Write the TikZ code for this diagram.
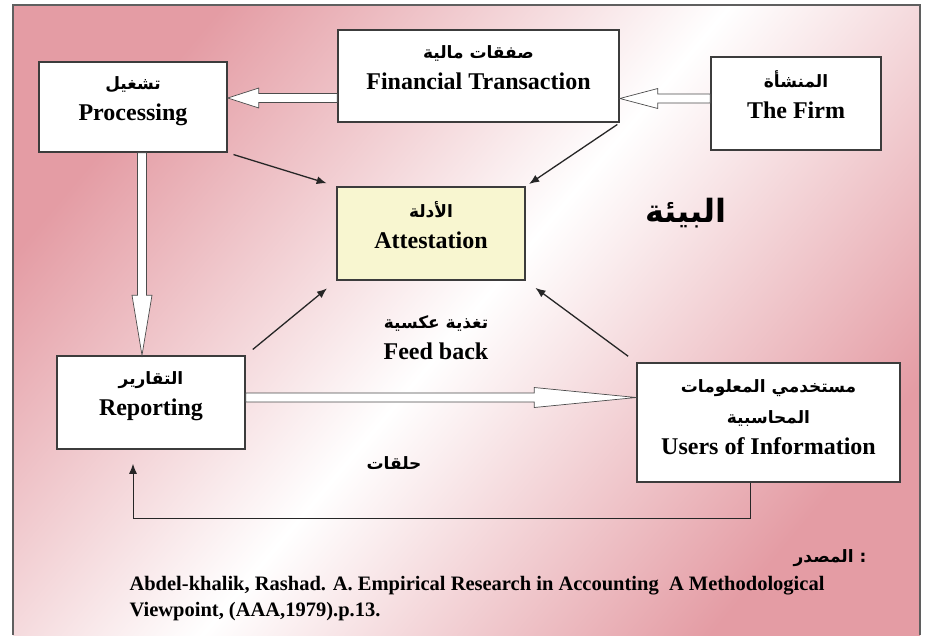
\documentclass[tikz,border=0pt]{standalone}
\usepackage{fontspec}
\setmainfont{Liberation Serif}
\newfontfamily\arabicfont[Script=Arabic]{DejaVu Sans}
\TeXXeTstate=1
\usetikzlibrary{arrows.meta,calc,positioning}
\definecolor{bgpink}{RGB}{228,156,164}
\definecolor{attyellow}{RGB}{248,246,208}
\definecolor{framegray}{RGB}{95,95,95}
\definecolor{boxgray}{RGB}{60,60,60}
\newcommand{\artxt}[2][17]{{\arabicfont\fontsize{#1}{31}\selectfont\beginR #2\endR}}

\begin{document}
\begin{tikzpicture}[
  x=1pt, y=-1pt,
  >={Latex[length=10pt,width=8pt]},
  box/.style={draw=boxgray,fill=white,line width=1.6pt,inner sep=2pt,
              align=center,font=\fontsize{24}{31}\selectfont\bfseries,
              text depth=17pt},
  lbl/.style={align=center,font=\fontsize{24}{31}\selectfont\bfseries},
  link/.style={->,draw=black!85,line width=1.3pt},
  fat/.style={draw=black!70,fill=white,line width=0.7pt,
              to path={
                ($(\tikztotarget)!#1!(\tikztostart)$) coordinate (fat-b)
                ($(\tikztostart)!4.5pt!90:(\tikztotarget)$)
                -- ($(fat-b)!4.5pt!90:(\tikztotarget)$)
                -- ($(fat-b)!10pt!90:(\tikztotarget)$)
                -- (\tikztotarget)
                -- ($(fat-b)!10pt!-90:(\tikztotarget)$)
                -- ($(fat-b)!4.5pt!-90:(\tikztotarget)$)
                -- ($(\tikztostart)!4.5pt!-90:(\tikztotarget)$)
                -- cycle}},
  fat/.default=30pt
]

%% ── Page, shaded background and frame ──
\useasboundingbox (0,0) rectangle (928,635);
\fill[white] (0,0) rectangle (928,635);
\shade[top color=bgpink,bottom color=bgpink,middle color=white,shading angle=50]
  (13,5) rectangle (920,635);
\draw[framegray,line width=1.2pt] (13,635) -- (13,5) -- (920,5) -- (920,635);

%% ── Boxes (all at explicit absolute coordinates) ──
\node[box,minimum width=188pt,minimum height=90pt]  (PRO)  at (133,107)
  {\artxt{تشغيل}\\Processing};
\node[box,minimum width=281pt,minimum height=92pt]  (FT)   at (478.5,76)
  {\artxt{صفقات مالية}\\Financial Transaction};
\node[box,minimum width=170pt,minimum height=93pt]  (FIRM) at (796,103.5)
  {\artxt{المنشأة}\\The Firm};
\node[box,fill=attyellow,minimum width=188pt,minimum height=93pt]
                                                    (ATT)  at (431,233.5)
  {\artxt{الأدلة}\\Attestation};
\node[box,minimum width=188pt,minimum height=93pt]  (REP)  at (151,402.5)
  {\artxt{التقارير}\\Reporting};
\node[box,text depth=10pt,minimum width=263pt,minimum height=119pt]
                                                    (USR)  at (768.5,422.5)
  {\artxt{مستخدمي المعلومات}\\\artxt{المحاسبية}\\Users of Information};

%% ── Free labels ──
\node[lbl] (ENV)  at (686,213) {\artxt[32]{البيئة}};
\node[lbl] (FB)   at (436,338) {\artxt{تغذية عكسية}\\Feed back};
\node[lbl] (LOOP) at (394,463) {\artxt{حلقات}};

%% ── Hollow flow arrows ──
\draw[fat=38pt] ([yshift=5pt]FIRM.west) to ([yshift=5pt]FIRM.west -| FT.east);
\draw[fat=31pt] ([yshift=9pt]PRO.east -| FT.west) to ([yshift=9pt]PRO.east);
\draw[fat=60pt] ([xshift=9pt]PRO.south) to ([xshift=9pt]PRO.south |- REP.north);
\draw[fat=102pt] ([yshift=5pt]REP.east) to ([yshift=5pt]REP.east -| USR.west);

%% ── Thin arrows into Attestation ──
\draw[link,shorten <=6pt,shorten >=10pt] (PRO.south east) -- (ATT.north west);
\draw[link,shorten <=3pt,shorten >=4pt]  (FT.south east)  -- (ATT.north east);
\draw[link,shorten <=9pt,shorten >=12pt] (REP.north east) -- (ATT.south west);
\draw[link,shorten <=10pt,shorten >=12pt] (USR.north west) -- (ATT.south east);

%% ── Feedback loop: Users -> down -> left -> up into Reporting ──
\coordinate (rail) at (0,518);
\draw[link,line width=1pt,shorten >=14pt]
  ([xshift=-18pt]USR.south) |- ([xshift=-18pt]REP.south |- rail)
  -- ([xshift=-18pt]REP.south);

%% ── Source note ──
\node[font=\fontsize{17}{20}\selectfont\bfseries] (SRC) at (830,558)
  {{\arabicfont\beginR المصدر\endR{} :}};
\node[anchor=west,align=left,font=\fontsize{20.5}{26}\selectfont\bfseries] (REF) at (126,599)
  {Abdel-khalik, Rashad. A. Empirical Research in Accounting\ \ A Methodological\\
   Viewpoint, (AAA,1979).p.13.};

\end{tikzpicture}
\end{document}
